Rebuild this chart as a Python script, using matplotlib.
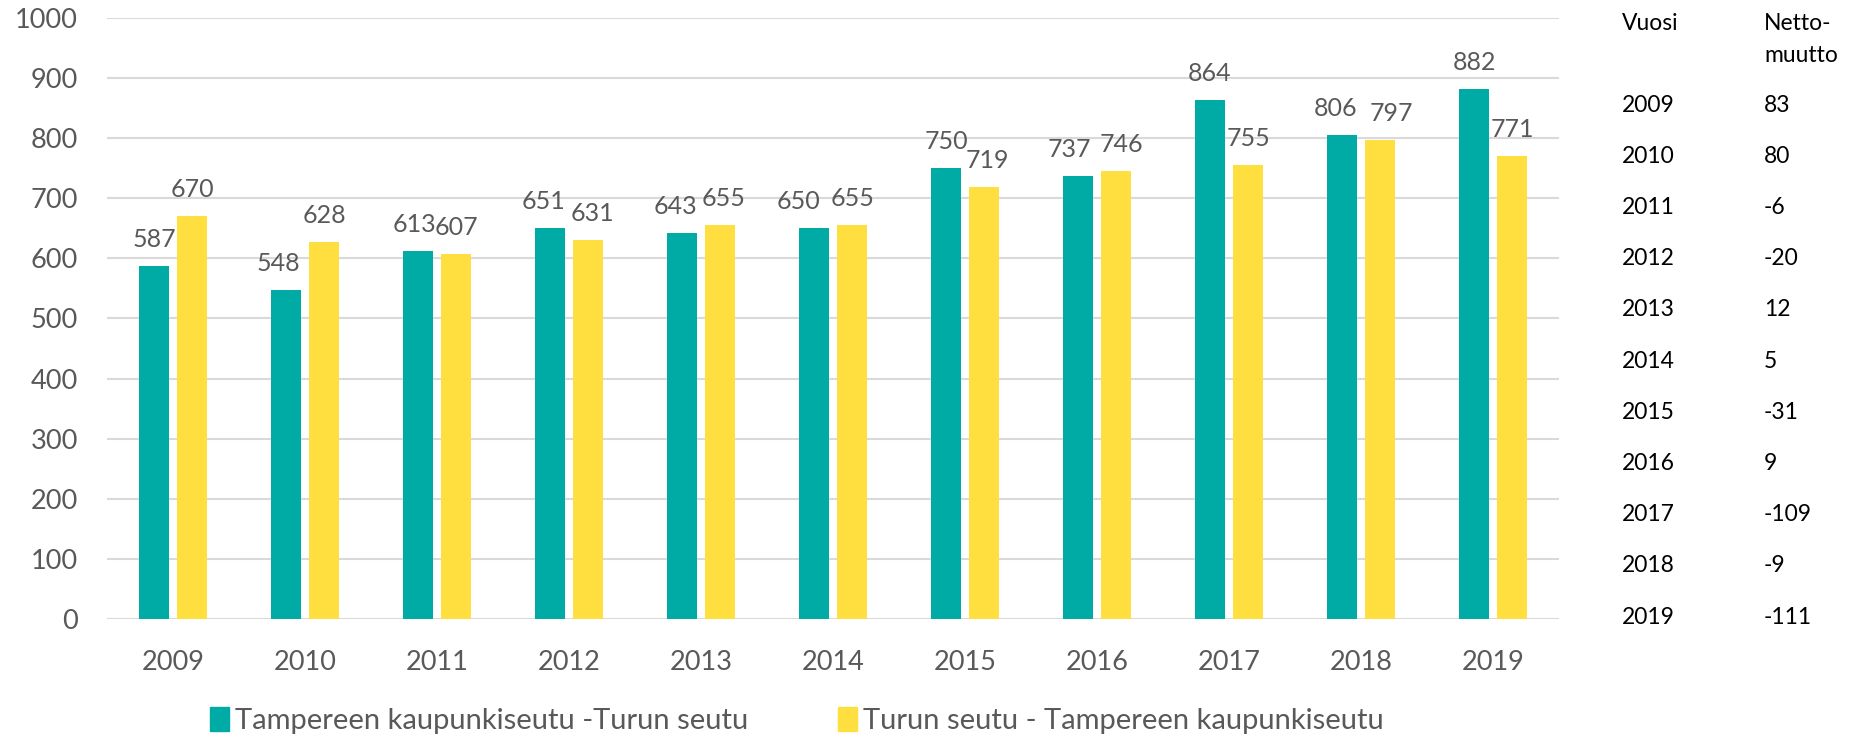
import matplotlib.pyplot as plt
from matplotlib.patches import Patch
import numpy as np

years = ["2009", "2010", "2011", "2012", "2013", "2014", "2015", "2016", "2017", "2018", "2019"]
tre_to_tku = [587, 548, 613, 651, 643, 650, 750, 737, 864, 806, 882]
tku_to_tre = [670, 628, 607, 631, 655, 655, 719, 746, 755, 797, 771]
netto = ["83", "80", "-6", "-20", "12", "5", "-31", "9", "-109", "-9", "-111"]

series_names = ["Tampereen kaupunkiseutu -Turun seutu", "Turun seutu - Tampereen kaupunkiseutu"]
table_head = ["Vuosi", "Netto-\nmuutto"]

# small horizontal nudges of the data labels (pixels), as placed in the original
nudge_teal = [0, -8, -4, -7, -7, -16, 0, -9, 0, -6, 0]
nudge_yellow = [0, 0, 0, 4, 3, 0, 3, 5, 0, 11, 0]

TEAL = "#00ABA6"
YELLOW = "#FFDF3F"
GREY = "#595959"
GRID = "#D9D9D9"

plt.rcParams["font.family"] = ["Lato", "DejaVu Sans"]

fig = plt.figure(figsize=(18.62, 7.37), dpi=100)
ax = fig.add_axes([0.0575, 0.1601, 0.7798, 0.8155])

x = np.arange(len(years))
w = 0.227
off = 0.144
b1 = ax.bar(x - off, tre_to_tku, width=w, color=TEAL, zorder=3)
b2 = ax.bar(x + off, tku_to_tre, width=w, color=YELLOW, zorder=3)

for bars, nudges in ((b1, nudge_teal), (b2, nudge_yellow)):
    for rect, dx in zip(bars, nudges):
        h = rect.get_height()
        ax.annotate(f"{h:.0f}", (rect.get_x() + rect.get_width() / 2, h),
                    xytext=(dx * 0.72, 13.7), textcoords="offset points",
                    ha="center", va="baseline", fontsize=18, color=GREY)

ax.set_xlim(-0.5, len(years) - 0.5)
ax.set_ylim(0, 1000)
ax.set_yticks(range(0, 1001, 100))
ax.set_xticks(x)
ax.set_xticklabels(years)
ax.grid(axis="y", color=GRID, linewidth=1.5, zorder=0)
ax.tick_params(axis="both", length=0, labelsize=19.5, labelcolor=GREY)
ax.tick_params(axis="x", pad=22)
ax.tick_params(axis="y", pad=21)
for s in ax.spines.values():
    s.set_visible(False)

handles = [Patch(color=TEAL), Patch(color=YELLOW)]
fig.legend(handles, series_names, loc="center", bbox_to_anchor=(0.428, 0.022),
           ncol=2, frameon=False, fontsize=21, labelcolor=GREY,
           handlelength=0.65, handleheight=0.85, handletextpad=0.2, columnspacing=3.1)

# side table
col1, col2 = 1622 / 1862, 1764 / 1862
fig.text(col1, 1 - 23 / 737, table_head[0], fontsize=16.5, va="center", ha="left", color="black")
for k, line in enumerate(table_head[1].split("\n")):
    fig.text(col2, 1 - (23 + k * 32) / 737, line, fontsize=16.5, va="center", ha="left", color="black")
for i, (yr, val) in enumerate(zip(years, netto)):
    yy = 1 - (105 + i * 51.2) / 737
    fig.text(col1, yy, yr, fontsize=16.5, va="center", ha="left", color="black")
    fig.text(col2, yy, val, fontsize=16.5, va="center", ha="left", color="black")

fig.savefig("out.png", dpi=100)
